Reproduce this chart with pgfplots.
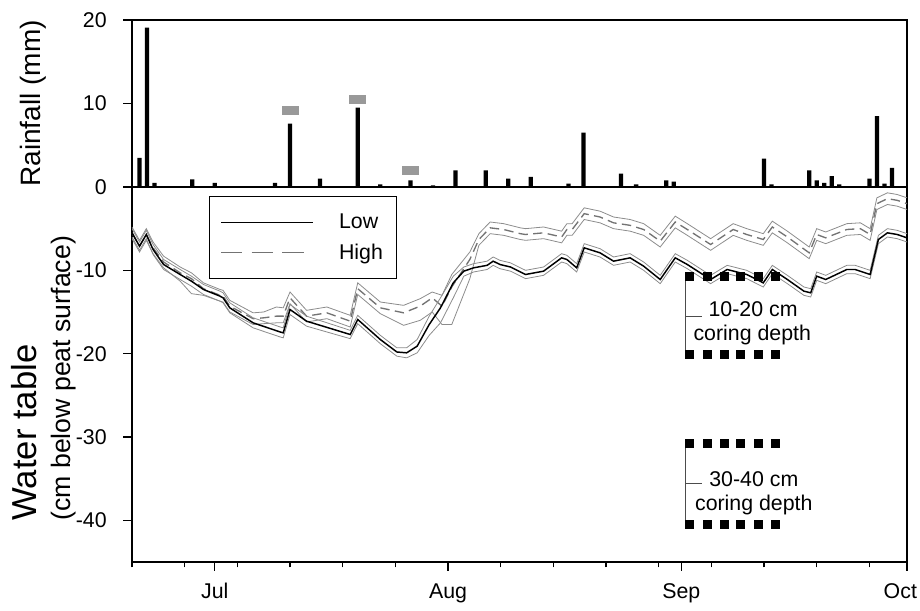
\documentclass[border=0pt]{standalone}
\usepackage{fontspec}
\setmainfont{Liberation Sans}
\usepackage{pgfplots}
\pgfplotsset{compat=1.18}
\usepackage{pgfplotstable}

\pgfplotstableread{
x m lo up
-11 -5.5 -6.0 -5.0
-10.0 -7.1 -7.6 -6.6
-9.1 -5.7 -6.2 -5.2
-8.2 -7.5 -8.1 -6.9
-6.8 -9.3 -9.9 -8.7
-4.6 -10.5 -11.1 -9.9
-3.1 -11.3 -11.9 -10.7
-1.5 -12.3 -12.9 -11.7
0.7 -13.1 -13.7 -12.5
1.1 -13.3 -13.9 -12.7
2.0 -14.5 -15.1 -13.9
5.1 -16.3 -16.9 -15.7
8.7 -17.4 -18.0 -16.8
9.1 -17.5 -18.1 -16.9
10.0 -14.7 -15.3 -14.1
12.2 -16.1 -16.7 -15.5
18.0 -17.7 -18.2 -17.2
19.0 -15.9 -16.4 -15.4
22.0 -18.3 -18.8 -17.8
24.2 -19.8 -20.3 -19.3
25.5 -19.9 -20.5 -19.3
26.9 -19.1 -19.9 -18.3
28.5 -16.5 -17.8 -15.5
30.0 -14.5 -16.3 -13.3
31.7 -11.5 -13.3 -10.7
33.1 -10.1 -10.7 -9.6
34.4 -9.7 -10.2 -9.2
36.2 -9.4 -9.9 -8.9
37.0 -8.9 -9.4 -8.4
37.9 -9.3 -9.8 -8.8
39.3 -9.6 -10.1 -9.1
41.3 -10.5 -11.0 -10.0
43.7 -10.1 -10.6 -9.6
46.1 -8.5 -9.0 -8.0
46.8 -8.7 -9.2 -8.2
48.1 -9.7 -10.2 -9.2
49.1 -7.3 -7.8 -6.8
51.2 -7.9 -8.4 -7.4
53.0 -8.9 -9.4 -8.4
55.2 -8.5 -9.0 -8.0
57.0 -9.5 -10.0 -9.0
59.2 -11.1 -11.6 -10.6
61.2 -8.5 -9.0 -8.0
62.8 -9.3 -9.8 -8.8
65.9 -11.1 -11.6 -10.6
68.1 -9.9 -10.4 -9.4
70.7 -10.5 -11.0 -10.0
72.9 -11.5 -12.0 -11.0
74.1 -9.9 -10.4 -9.4
76.1 -11.1 -11.6 -10.6
78.3 -12.5 -13.0 -12.0
79.2 -12.7 -13.2 -12.2
80.0 -10.7 -11.2 -10.2
81.2 -11.1 -11.6 -10.6
84.0 -9.9 -10.4 -9.4
85.1 -9.9 -10.4 -9.4
87.1 -10.5 -11.0 -10.0
88.2 -6.3 -6.8 -5.8
89.4 -5.5 -6.0 -5.0
90.7 -5.7 -6.2 -5.2
92 -6.1 -6.6 -5.6
}\lowtab

\pgfplotstableread{
x m lo up
-11 -5.5 -6.2 -4.8
-10.0 -7.1 -7.8 -6.4
-9.1 -5.7 -6.4 -5.0
-8.2 -7.3 -8.0 -6.6
-6.8 -9.0 -9.7 -8.3
-4.6 -10.3 -11.3 -9.6
-3.1 -11.0 -12.8 -10.3
-1.5 -12.2 -13.0 -11.5
0.7 -13.0 -13.7 -12.3
1.1 -13.1 -13.8 -12.4
2.0 -14.3 -15.0 -13.6
5.1 -15.8 -16.5 -15.1
6.5 -15.7 -16.4 -15.0
8.2 -15.5 -16.3 -14.4
9.1 -15.5 -16.3 -14.5
10.0 -13.3 -14.0 -12.6
12.2 -15.5 -16.2 -14.8
14.9 -15.1 -15.8 -14.4
18.0 -16.1 -16.8 -15.4
19.0 -12.2 -12.9 -11.5
22.0 -14.5 -15.2 -13.8
25.1 -15.1 -16.6 -14.2
27.3 -14.3 -16.0 -13.4
28.9 -13.3 -15.0 -12.6
30.2 -14.3 -16.5 -13.0
31.5 -12.0 -16.5 -10.5
33.9 -8.7 -11.0 -7.8
35.1 -6.3 -7.0 -5.6
36.6 -4.9 -5.6 -4.2
38.4 -5.1 -5.8 -4.4
40.6 -5.6 -6.3 -4.9
41.3 -5.7 -6.4 -5.0
43.7 -5.5 -6.2 -4.8
46.1 -6.0 -6.7 -5.3
46.8 -5.1 -5.8 -4.4
47.5 -5.1 -5.8 -4.4
49.1 -3.2 -3.9 -2.5
51.2 -3.6 -4.3 -2.9
53.0 -4.3 -5.0 -3.6
55.2 -4.6 -5.3 -3.9
57.0 -5.1 -5.8 -4.4
59.2 -6.5 -7.2 -5.8
61.2 -4.2 -4.9 -3.5
62.8 -5.1 -5.8 -4.4
65.9 -6.9 -7.6 -6.2
68.9 -5.1 -5.8 -4.4
70.7 -5.7 -6.4 -5.0
72.9 -6.3 -7.0 -5.6
74.1 -4.8 -5.5 -4.1
76.1 -6.0 -6.7 -5.3
79.0 -7.9 -8.6 -7.2
80.0 -5.7 -6.4 -5.0
81.2 -6.1 -6.8 -5.4
84.0 -5.1 -5.8 -4.4
85.8 -5.0 -5.7 -4.3
87.1 -5.7 -6.4 -5.0
88.0 -2.0 -2.7 -1.3
89.4 -1.4 -2.1 -0.7
90.7 -1.6 -2.3 -0.9
92 -2.0 -2.7 -1.3
}\hightab

\begin{document}
\begin{tikzpicture}
\pgfplotsset{
  common/.style={
    scale only axis, width=581.25pt,
    xmin=-11, xmax=92,
    tick align=outside, tick pos=left,
    axis line style={line width=1.2pt},
    every tick/.style={black, line width=1pt},
    major tick length=6.5pt, minor tick length=4pt,
    tick label style={font=\fontsize{16}{19}\selectfont},
    yticklabel style={xshift=-9pt},
    /pgf/number format/assume math mode=true,
  }
}
\begin{axis}[common,
  at={(0pt,0pt)}, anchor=south west,
  height=281.25pt,
  ymin=-45, ymax=0,
  ytick={-40,-30,-20,-10}, yticklabels={-40,-30,-20,-10},
  xtick={0,31,62,92}, xticklabels={Jul,Aug,Sep,{\kern-10pt Oct}},
  minor xtick={-11,-4,3,10,17,24,38,45,52,59,66,73,80,87},
  xticklabel style={font=\fontsize{16}{19}\selectfont, yshift=-6pt},
  ylabel={{\fontsize{26}{26}\selectfont Water table}\\[10pt]{\fontsize{20}{22}\selectfont (cm below peat surface)}},
  ylabel style={align=left, at={(axis description cs:-0.066,0.098)}, anchor=south west},
  legend style={at={(axis description cs:0.0994,0.976)}, anchor=north west, draw=black, line width=1pt, fill=white,
    inner xsep=8pt, inner ysep=11pt, row sep=6pt},
  legend cell align=left,
  legend image code/.code={\draw[#1] (0pt,0pt) -- (69pt,0pt);},
]
\addlegendimage{black, line width=1pt}
\addlegendentry{\fontsize{16}{19}\selectfont\hspace{17pt}Low\hspace{16pt}}
\addlegendimage{black!55, line width=1pt, dash pattern=on 16pt off 7pt}
\addlegendentry{\fontsize{16}{19}\selectfont\hspace{17pt}High\hspace{16pt}}
\addplot[forget plot, black!45, line width=0.6pt] table[x=x,y=lo]{\hightab};
\addplot[forget plot, black!45, line width=0.6pt] table[x=x,y=up]{\hightab};
\addplot[forget plot, black!55, line width=1pt, dash pattern=on 7pt off 4pt] table[x=x,y=m]{\hightab};
\addplot[forget plot, black!45, line width=0.6pt] table[x=x,y=lo]{\lowtab};
\addplot[forget plot, black!45, line width=0.6pt] table[x=x,y=up]{\lowtab};
\addplot[forget plot, black, line width=1.1pt] table[x=x,y=m]{\lowtab};
% coring depth annotations
\addplot[forget plot, only marks, mark=square*, mark size=3pt, black] coordinates {(63.0,-10.7) (65.4,-10.7) (67.7,-10.7) (69.9,-10.7) (72.2,-10.7) (74.5,-10.7)};
\addplot[forget plot, only marks, mark=square*, mark size=3pt, black] coordinates {(63.0,-20.1) (65.4,-20.1) (67.7,-20.1) (69.9,-20.1) (72.2,-20.1) (74.5,-20.1)};
\addplot[forget plot, only marks, mark=square*, mark size=3pt, black] coordinates {(63.0,-30.8) (65.4,-30.8) (67.7,-30.8) (69.9,-30.8) (72.2,-30.8) (74.5,-30.8)};
\addplot[forget plot, only marks, mark=square*, mark size=3pt, black] coordinates {(63.0,-40.5) (65.4,-40.5) (67.7,-40.5) (69.9,-40.5) (72.2,-40.5) (74.5,-40.5)};
\addplot[forget plot, black!70, line width=0.6pt] coordinates {(62.6,-10.7) (62.6,-20.1)};
\addplot[forget plot, black!70, line width=0.6pt] coordinates {(62.6,-15.5) (64.8,-15.5)};
\addplot[forget plot, black!70, line width=0.6pt] coordinates {(62.6,-30.8) (62.6,-40.5)};
\addplot[forget plot, black!70, line width=0.6pt] coordinates {(62.6,-35.6) (64.8,-35.6)};
\node[anchor=west, font=\fontsize{16}{19}\selectfont, inner sep=0pt] at (axis cs:65.6,-14.6) {10-20 cm};
\node[anchor=west, font=\fontsize{16}{19}\selectfont, inner sep=0pt] at (axis cs:63.6,-17.7) {coring depth};
\node[anchor=west, font=\fontsize{16}{19}\selectfont, inner sep=0pt] at (axis cs:65.7,-35.0) {30-40 cm};
\node[anchor=west, font=\fontsize{16}{19}\selectfont, inner sep=0pt] at (axis cs:63.8,-38.1) {coring depth};
\end{axis}

\begin{axis}[common,
  at={(0pt,281.25pt)}, anchor=south west,
  height=125.25pt,
  ymin=0, ymax=20,
  ytick={0,10,20},
  xtick=\empty,
  ylabel={Rainfall (mm)},
  ylabel style={font=\fontsize{21}{25}\selectfont, at={(axis description cs:-0.128,0.5)}, anchor=center},
]
\addplot[ybar, bar width=3.2pt, fill=black, draw=none] coordinates {
(-10,3.5) (-9,19.1) (-8,0.5) (-3,0.9) (0,0.5) (8,0.5) (10,7.6) (14,1.0) (19,9.5) (22,0.3)
(26,0.8) (29,0.2) (32,2.0) (36,2.0) (39,1.0) (42,1.2) (47,0.4) (49,6.5) (54,1.6) (56,0.3)
(60,0.8) (61,0.65) (73,3.4) (74,0.3) (79,2.0) (80,0.8) (81,0.5) (82,1.3) (83,0.3)
(87,1.0) (88,8.5) (89,0.4) (90,2.3)};
\addplot[only marks, mark=square*, mark size=3pt, mark options={xscale=2, fill=black!40, draw=black!40}] coordinates {(10,9.2) (19,10.5) (26,2.0)};
\end{axis}
\pgfresetboundingbox
\path[use as bounding box] (-99pt,-36pt) rectangle (591pt,421.5pt);
\end{tikzpicture}
\end{document}
